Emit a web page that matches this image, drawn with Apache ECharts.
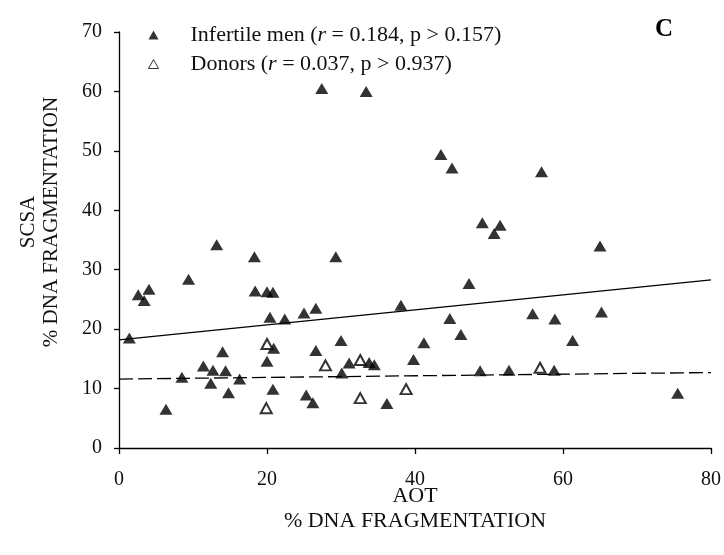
<!DOCTYPE html>
<html>
<head>
<meta charset="utf-8">
<script src="https://cdn.jsdelivr.net/npm/echarts@6/dist/echarts.min.js"></script>
<style>
  html, body { margin: 0; padding: 0; background: #fff; }
  #chart { width: 724px; height: 555px; }
</style>
</head>
<body>
<div id="chart"></div>
<script>
// AOT (x) vs SCSA (y), % DNA fragmentation
const infertileMen = [
  [1.4, 18.5], [2.6, 25.8], [3.4, 24.8], [4.05, 26.7], [6.35, 6.5],
  [8.5, 11.9], [9.4, 28.4], [11.4, 13.8], [12.4, 10.9], [12.7, 13.1],
  [13.2, 34.2], [14.0, 16.2], [14.4, 13.0], [14.8, 9.3], [16.3, 11.6],
  [18.3, 32.2], [18.4, 26.4], [20.0, 26.3], [20.8, 26.2], [20.0, 14.6],
  [20.9, 16.8], [20.8, 9.9], [20.4, 22.0], [22.4, 21.7], [25.0, 22.7],
  [25.3, 8.9], [26.2, 7.6], [26.6, 23.5], [26.6, 16.4], [27.4, 60.5],
  [29.3, 32.2], [30.0, 18.1], [30.1, 12.6], [31.1, 14.3], [33.4, 60.0],
  [33.8, 14.4], [34.5, 14.0], [36.2, 7.5], [38.1, 24.0], [39.8, 14.9],
  [41.2, 17.7], [43.5, 49.4], [44.7, 21.8], [45.0, 47.1], [46.2, 19.1],
  [47.3, 27.7], [48.8, 13.0], [49.1, 37.9], [50.7, 36.1], [51.5, 37.5],
  [52.7, 13.1], [55.9, 22.6], [57.1, 46.5], [58.8, 13.1], [58.9, 21.7],
  [61.3, 18.1], [65.0, 34.0], [65.2, 22.9], [75.5, 9.2]
];
const donors = [
  [20.0, 17.5], [19.9, 6.7], [27.9, 13.9], [32.6, 14.8],
  [32.6, 8.4], [38.8, 9.9], [56.9, 13.5]
];
// regression lines (end points)
const fitInfertile = [[0, 18.2], [80, 28.3]];
const fitDonors = [[0, 11.6], [80, 12.7]];

const seriesNames = ['Infertile men', 'Donors'];
const legendR = ['0.184', '0.037'];
const legendP = ['0.157', '0.937'];

const xTicks = { min: 0, max: 80, interval: 20 };
const yTicks = { min: 0, max: 70, interval: 10 };

const FONT = '"Liberation Serif", "DejaVu Serif", serif';
const TRI = 'path://M5,0L10,9L0,9Z';

const chart = echarts.init(document.getElementById('chart'));

const option = {
  animation: false,
  backgroundColor: '#fff',
  textStyle: { fontFamily: FONT, color: '#000' },
  grid: { left: 119, right: 13, top: 32, bottom: 107 },
  legend: {
    orient: 'vertical',
    left: 143,
    top: 18,
    itemWidth: 10,
    itemHeight: 9,
    itemGap: 5,
    data: [
      { name: seriesNames[0], icon: TRI,
        itemStyle: { color: '#000', borderWidth: 0 } },
      { name: seriesNames[1], icon: TRI,
        itemStyle: { color: '#fff', borderColor: '#000', borderWidth: 1 } }
    ],
    formatter: function (name) {
      const i = seriesNames.indexOf(name);
      return name + ' ({it|r} = ' + legendR[i] + ', p > ' + legendP[i] + ')';
    },
    textStyle: {
      fontFamily: FONT,
      fontSize: 22,
      lineHeight: 24,
      color: '#111',
      padding: [0, 0, 0, 27],
      rich: {
        it: { fontFamily: FONT, fontSize: 22, fontStyle: 'italic', color: '#111' }
      }
    }
  },
  xAxis: {
    type: 'value',
    min: xTicks.min,
    max: xTicks.max,
    interval: xTicks.interval,
    name: 'AOT\n% DNA FRAGMENTATION',
    nameLocation: 'middle',
    nameGap: 36,
    nameMoveOverlap: false,
    nameTextStyle: { fontFamily: FONT, fontSize: 22, lineHeight: 25, color: '#111' },
    axisLine: { lineStyle: { color: '#000', width: 1.3 } },
    axisTick: { length: 6, lineStyle: { color: '#000', width: 1.3 } },
    axisLabel: { margin: 22, fontFamily: FONT, fontSize: 20, color: '#111' },
    splitLine: { show: false }
  },
  yAxis: {
    type: 'value',
    min: yTicks.min,
    max: yTicks.max,
    interval: yTicks.interval,
    axisLine: { show: true, lineStyle: { color: '#000', width: 1.3 } },
    axisTick: { show: true, length: 5, lineStyle: { color: '#000', width: 1.3 } },
    axisLabel: { margin: 17, fontFamily: FONT, fontSize: 20, color: '#111' },
    splitLine: { show: false }
  },
  graphic: [
    {
      type: 'text',
      x: 40,
      y: 222,
      rotation: Math.PI / 2,
      style: {
        text: 'SCSA\n% DNA FRAGMENTATION',
        font: '21px ' + FONT,
        lineHeight: 23,
        fill: '#111',
        textAlign: 'center',
        textVerticalAlign: 'middle'
      }
    },
    {
      type: 'text',
      x: 664,
      y: 30,
      style: {
        text: 'C',
        font: 'bold 25px ' + FONT,
        fill: '#000',
        textAlign: 'center',
        textVerticalAlign: 'middle'
      }
    }
  ],
  series: [
    {
      name: seriesNames[0],
      type: 'scatter',
      symbol: 'triangle',
      symbolSize: [13, 11],
      itemStyle: { color: '#000' },
      data: infertileMen,
      z: 3
    },
    {
      name: seriesNames[1],
      type: 'scatter',
      symbol: 'emptyTriangle',
      symbolSize: [11, 10],
      itemStyle: { color: '#000', borderWidth: 1.2 },
      data: donors,
      z: 3
    },
    {
      type: 'line',
      data: fitInfertile,
      symbol: 'none',
      lineStyle: { color: '#000', width: 1.3 },
      z: 2
    },
    {
      type: 'line',
      data: fitDonors,
      symbol: 'none',
      lineStyle: { color: '#000', width: 1.3, type: [14, 5] },
      z: 2
    }
  ]
};

chart.setOption(option);
</script>
</body>
</html>
